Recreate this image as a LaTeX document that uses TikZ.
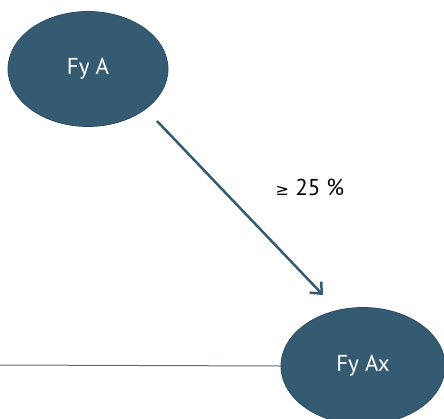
\documentclass[tikz,border=0pt]{standalone}
\usepackage{fontspec}
\setmainfont{PT Sans}
\newfontfamily\symfont{DejaVu Sans}
\usetikzlibrary{shapes.geometric,arrows.meta}
\definecolor{nodefill}{HTML}{355B73}
\definecolor{nodeborder}{HTML}{2A4A60}
\definecolor{linegray}{HTML}{5E6B7E}
\begin{document}
\begin{tikzpicture}[x=1pt,y=-1pt,
  bubble/.style={ellipse, fill=nodefill, draw=nodeborder, line width=0.8pt,
    minimum width=160pt, minimum height=115pt, inner sep=0pt,
    text=white, font=\fontsize{23}{26}\selectfont},
  conn/.style={draw=nodefill, line width=2.5pt, -{Straight Barb[length=9pt,width=16pt,line width=2.5pt]}},
  lbl/.style={font=\fontsize{23}{26}\selectfont, text=black}]
\useasboundingbox (0,0) rectangle (444,418);
\begin{scope}
\clip (0,0) rectangle (444,418);
\coordinate (left) at (0,365);
\node[bubble, minimum width=164pt, minimum height=117pt] (ax) at (363,366) {Fy Ax};
\draw[linegray, line width=1pt] (left) -- (ax.west);
\node[bubble] (a) at (88,69) {Fy A};
\coordinate (s) at ([shift={(69,52)}]a.center);
\coordinate (e) at ([shift={(-40,-71)}]ax.center);
\draw[conn] (s) -- (e);
\node[lbl] (p) at (310,187) {{\symfont\fontsize{16}{18}\selectfont ≥} 25 \%};
\end{scope}
\end{tikzpicture}
\end{document}
